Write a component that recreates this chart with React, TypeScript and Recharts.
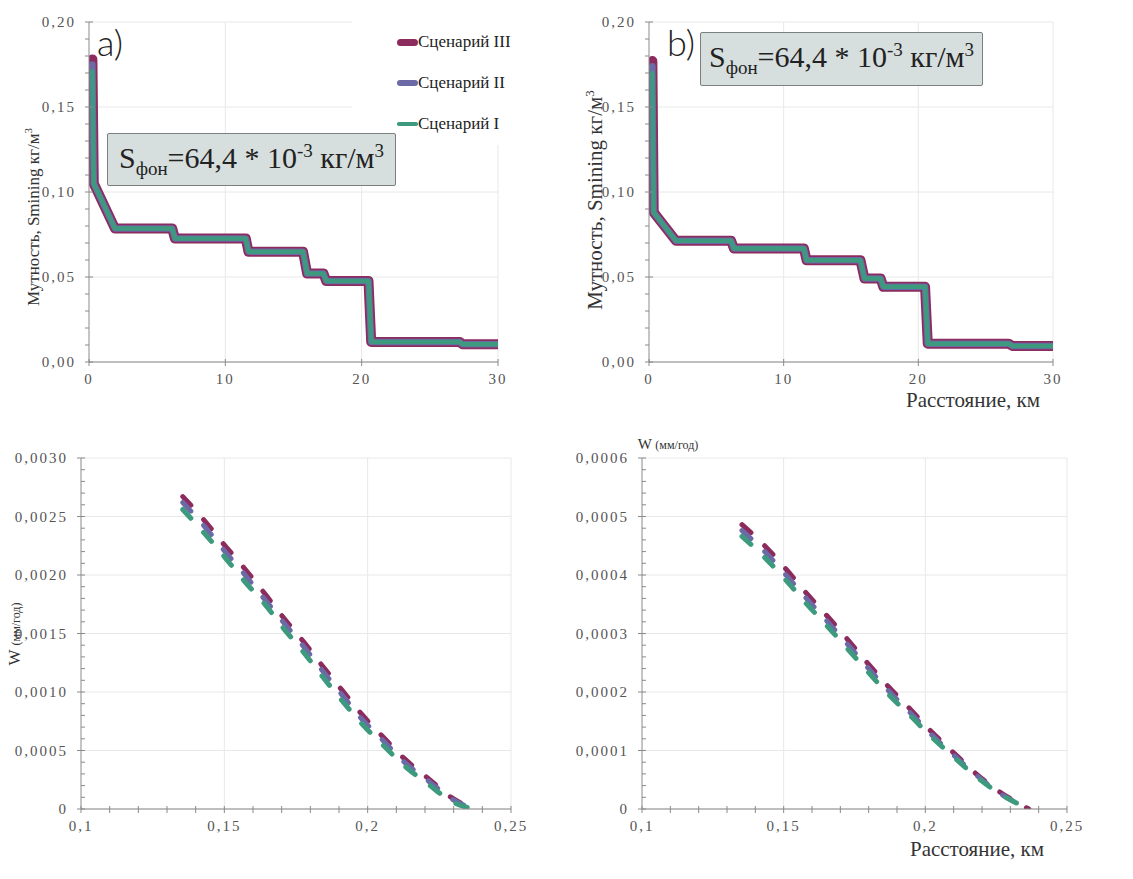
import React from "react";
import { LineChart, Line, XAxis, YAxis, CartesianGrid } from "recharts";

// panel a) turbidity vs distance (km)
const distA = [0.25, 0.35, 1.9, 6.1, 6.3, 11.5, 11.7, 15.7, 16.0, 17.2, 17.4, 20.5, 20.7, 27.2, 27.4, 30];
const scen3A = [0.178, 0.105, 0.0786, 0.0786, 0.0727, 0.0727, 0.0649, 0.0649, 0.052, 0.052, 0.0477, 0.0477, 0.0118, 0.0118, 0.0104, 0.0104];
const scen2A = [0.175, 0.105, 0.0786, 0.0786, 0.0727, 0.0727, 0.0649, 0.0649, 0.052, 0.052, 0.0477, 0.0477, 0.0118, 0.0118, 0.0104, 0.0104];
const scen1A = [0.171, 0.105, 0.0786, 0.0786, 0.0727, 0.0727, 0.0649, 0.0649, 0.052, 0.052, 0.0477, 0.0477, 0.0118, 0.0118, 0.0104, 0.0104];

// panel b)
const distB = [0.25, 0.35, 2.0, 6.1, 6.3, 11.5, 11.7, 15.7, 16.0, 17.2, 17.4, 20.5, 20.7, 26.7, 27.0, 30];
const scen3B = [0.177, 0.088, 0.0713, 0.0713, 0.0668, 0.0668, 0.0599, 0.0599, 0.0491, 0.0491, 0.0442, 0.0442, 0.0108, 0.0108, 0.0094, 0.0094];
const scen2B = [0.174, 0.088, 0.0713, 0.0713, 0.0668, 0.0668, 0.0599, 0.0599, 0.0491, 0.0491, 0.0442, 0.0442, 0.0108, 0.0108, 0.0094, 0.0094];
const scen1B = [0.170, 0.088, 0.0713, 0.0713, 0.0668, 0.0668, 0.0599, 0.0599, 0.0491, 0.0491, 0.0442, 0.0442, 0.0108, 0.0108, 0.0094, 0.0094];

// panel c) W (mm/year) vs distance
const distC = [0.1355, 0.1429, 0.1499, 0.1569, 0.1638, 0.1708, 0.1776, 0.1843, 0.1909, 0.1979, 0.2052, 0.2128, 0.2212, 0.2297, 0.2369];
const scen3C = [0.00267, 0.00247, 0.00226, 0.00206, 0.00185, 0.00163, 0.00143, 0.00122, 0.00102, 0.00081, 0.00062, 0.00043, 0.00026, 0.00009, 0];
const scen2C = [0.00262, 0.00242, 0.00221, 0.00201, 0.0018, 0.00159, 0.00139, 0.00118, 0.00098, 0.00077, 0.00059, 0.0004, 0.00024, 0.00008, 0];
const scen1C = [0.00256, 0.00236, 0.00216, 0.00195, 0.00176, 0.00154, 0.00134, 0.00113, 0.00093, 0.00073, 0.00055, 0.00037, 0.00021, 0.00006, 0];

// panel d)
const distD = [0.1353, 0.1437, 0.151, 0.158, 0.1655, 0.1725, 0.18, 0.187, 0.195, 0.202, 0.21, 0.2175, 0.226, 0.2365];
const scen3D = [0.000486, 0.000448, 0.000409, 0.000369, 0.000329, 0.00029, 0.000247, 0.000209, 0.000169, 0.000133, 0.000096, 0.000062, 0.00003, 0];
const scen2D = [0.000476, 0.000438, 0.000399, 0.00036, 0.00032, 0.000282, 0.00024, 0.000202, 0.000163, 0.000128, 0.000092, 0.00006, 0.000028, 0];
const scen1D = [0.000466, 0.000428, 0.00039, 0.000351, 0.000312, 0.000274, 0.000233, 0.000196, 0.000158, 0.000124, 0.000089, 0.000057, 0.000027, 0];

// axes ticks
const xTicksTop = [0, 10, 20, 30];
const yTicksTop = [0, 0.05, 0.1, 0.15, 0.2];
const xTicksBottom = [0.1, 0.15, 0.2, 0.25];
const yTicksC = [0, 0.0005, 0.001, 0.0015, 0.002, 0.0025, 0.003];
const yTicksD = [0, 0.0001, 0.0002, 0.0003, 0.0004, 0.0005, 0.0006];

const SCENARIOS = [
  { key: "s3", name: "Сценарий III", color: "#8c2b5d", solid: 10, legend: 7 },
  { key: "s2", name: "Сценарий II", color: "#6b6aa6", solid: 6.5, legend: 6 },
  { key: "s1", name: "Сценарий I", color: "#3e9a7e", solid: 4.5, legend: 3.5 },
];

const AXIS = "#8a8a8a";
const GRID = "#e8e8e8";
const GAP = 13;
const serif = "'Liberation Serif', 'DejaVu Serif', serif";

const tickFont: React.CSSProperties = {
  fontFamily: serif,
  fontSize: 15,
  letterSpacing: 2,
  fill: "#555",
};

const toTable = (xs: number[], a: number[], b: number[], c: number[]) =>
  xs.map((x, i) => ({ x, s3: a[i], s2: b[i], s1: c[i] }));

const minorTicks = (lo: number, hi: number, step: number) => {
  const out: number[] = [];
  const n = Math.round((hi - lo) / step);
  for (let i = 0; i <= n; i++) out.push(+(lo + i * step).toFixed(8));
  return out;
};

const isMajor = (majors: number[], v: number) => majors.some((m) => Math.abs(m - v) < 1e-9);

const commaFmt = (d: number) => (v: number) => (v === 0 && d > 2 ? "0" : v.toFixed(d).replace(".", ","));

const makeYTick = (majors: number[], fmt: (v: number) => string, minorOut: boolean) => (p: any) => {
  const ax = p.x + GAP;
  const y = p.y;
  const v = Number(p.payload.value);
  const major = isMajor(majors, v);
  return (
    <g>
      {major ? (
        <line x1={ax - 4} x2={ax + 4} y1={y} y2={y} stroke={AXIS} />
      ) : (
        <line x1={minorOut ? ax - 4 : ax} x2={minorOut ? ax : ax + 4} y1={y} y2={y} stroke={AXIS} />
      )}
      {major && (
        <text x={ax - GAP} y={y} textAnchor="end" dominantBaseline="central" fontFamily={serif} style={tickFont}>
          {fmt(v)}
        </text>
      )}
    </g>
  );
};

const makeXTick = (majors: number[], fmt: (v: number) => string, offset: number) => (p: any) => {
  const ay = p.y - GAP;
  const x = p.x;
  const v = Number(p.payload.value);
  const major = isMajor(majors, v);
  return (
    <g>
      <line x1={x} x2={x} y1={ay - 3} y2={ay + 4} stroke={AXIS} />
      {major && (
        <text x={x} y={ay + offset} textAnchor="middle" dominantBaseline="central" fontFamily={serif} style={tickFont}>
          {fmt(v)}
        </text>
      )}
    </g>
  );
};

interface PanelProps {
  left: number;
  top: number;
  width: number;
  height: number;
  margin: { top: number; right: number; bottom: number; left: number };
  yWidth: number;
  data: any[];
  xDomain: [number, number];
  xMajors: number[];
  xAll: number[];
  xFmt: (v: number) => string;
  yDomain: [number, number];
  yMajors: number[];
  yAll: number[];
  yFmt: (v: number) => string;
  minorOut: boolean;
  dashed: boolean;
}

const Panel = (p: PanelProps) => (
  <div style={{ position: "absolute", left: p.left, top: p.top }}>
    <LineChart width={p.width} height={p.height} data={p.data} margin={p.margin}>
      <CartesianGrid stroke={GRID} horizontalValues={p.yMajors} verticalValues={p.xMajors.slice(1)} />
      <XAxis
        dataKey="x"
        type="number"
        domain={p.xDomain}
        ticks={p.xAll}
        interval={0}
        height={30}
        tickSize={0}
        tickMargin={GAP}
        tickLine={false}
        stroke={AXIS}
        tick={makeXTick(p.xMajors, p.xFmt, 17)}
        allowDataOverflow
      />
      <YAxis
        type="number"
        domain={p.yDomain}
        ticks={p.yAll}
        interval={0}
        width={p.yWidth}
        tickSize={0}
        tickMargin={GAP}
        tickLine={false}
        stroke={AXIS}
        tick={makeYTick(p.yMajors, p.yFmt, p.minorOut)}
        allowDataOverflow
      />
      {SCENARIOS.map((s) => (
        <Line
          key={s.key}
          dataKey={s.key}
          name={s.name}
          type={p.dashed ? "monotone" : "linear"}
          stroke={s.color}
          strokeWidth={p.dashed ? 5 : s.solid}
          strokeDasharray={p.dashed ? "12 19" : undefined}
          strokeLinecap="round"
          strokeLinejoin="round"
          dot={false}
          activeDot={false}
          isAnimationActive={false}
        />
      ))}
    </LineChart>
  </div>
);

const SBox = ({ left, top, width, height }: { left: number; top: number; width: number; height: number }) => (
  <div
    style={{
      position: "absolute",
      left,
      top,
      width,
      height,
      boxSizing: "border-box",
      background: "#d6dede",
      border: "1.5px solid #7a7f7f",
      borderRadius: 2,
      display: "flex",
      alignItems: "center",
      justifyContent: "center",
      fontFamily: serif,
      fontSize: 30,
      color: "#222",
      whiteSpace: "nowrap",
    }}
  >
    <span>
      S<sub style={{ fontSize: 19 }}>фон</sub>=64,4 * 10<sup style={{ fontSize: 19 }}>-3</sup> кг/м
      <sup style={{ fontSize: 19 }}>3</sup>
    </span>
  </div>
);

const Rotated = ({ cx, cy, size, children }: { cx: number; cy: number; size: number; children: React.ReactNode }) => (
  <div
    style={{
      position: "absolute",
      left: cx,
      top: cy,
      transform: "translate(-50%, -50%) rotate(-90deg)",
      whiteSpace: "nowrap",
      fontFamily: serif,
      fontSize: size,
      color: "#333",
    }}
  >
    {children}
  </div>
);

const Plain = ({ cx, cy, size, children }: { cx: number; cy: number; size: number; children: React.ReactNode }) => (
  <div
    style={{
      position: "absolute",
      left: cx,
      top: cy,
      transform: "translate(-50%, -50%)",
      whiteSpace: "nowrap",
      fontFamily: serif,
      fontSize: size,
      color: "#333",
    }}
  >
    {children}
  </div>
);

export default function App() {
  const topA = toTable(distA, scen3A, scen2A, scen1A);
  const topB = toTable(distB, scen3B, scen2B, scen1B);
  const botC = toTable(distC, scen3C, scen2C, scen1C);
  const botD = toTable(distD, scen3D, scen2D, scen1D);

  const fmtInt = (v: number) => String(v);
  const fmtBx = (v: number) => String(v).replace(".", ",");
  const yTopAll = minorTicks(0, 0.2, 0.01);
  const xBotAll = minorTicks(0.1, 0.25, 0.01);

  return (
    <div style={{ position: "absolute", left: 0, top: 0, width: 1133, height: 879, background: "#fff", overflow: "hidden" }}>
      <Panel
        left={0}
        top={0}
        width={560}
        height={420}
        margin={{ top: 22, right: 62, bottom: 28, left: 0 }}
        yWidth={89}
        data={topA}
        xDomain={[0, 30]}
        xMajors={xTicksTop}
        xAll={xTicksTop}
        xFmt={fmtInt}
        yDomain={[0, 0.2]}
        yMajors={yTicksTop}
        yAll={yTopAll}
        yFmt={commaFmt(2)}
        minorOut
        dashed={false}
      />
      <Panel
        left={560}
        top={0}
        width={573}
        height={420}
        margin={{ top: 22, right: 80, bottom: 28, left: 0 }}
        yWidth={89}
        data={topB}
        xDomain={[0, 30]}
        xMajors={xTicksTop}
        xAll={xTicksTop}
        xFmt={fmtInt}
        yDomain={[0, 0.2]}
        yMajors={yTicksTop}
        yAll={yTopAll}
        yFmt={commaFmt(2)}
        minorOut
        dashed={false}
      />
      <Panel
        left={0}
        top={430}
        width={560}
        height={449}
        margin={{ top: 28, right: 49, bottom: 40, left: 0 }}
        yWidth={81}
        data={botC}
        xDomain={[0.1, 0.25]}
        xMajors={xTicksBottom}
        xAll={xBotAll}
        xFmt={fmtBx}
        yDomain={[0, 0.003]}
        yMajors={yTicksC}
        yAll={minorTicks(0, 0.003, 0.0001)}
        yFmt={commaFmt(4)}
        minorOut={false}
        dashed
      />
      <Panel
        left={560}
        top={430}
        width={573}
        height={449}
        margin={{ top: 28, right: 66, bottom: 40, left: 0 }}
        yWidth={82}
        data={botD}
        xDomain={[0.1, 0.25]}
        xMajors={xTicksBottom}
        xAll={xBotAll}
        xFmt={fmtBx}
        yDomain={[0, 0.0006]}
        yMajors={yTicksD}
        yAll={minorTicks(0, 0.0006, 0.00002)}
        yFmt={commaFmt(4)}
        minorOut={false}
        dashed
      />

      {/* legend of panel a */}
      <div style={{ position: "absolute", left: 352, top: 0, width: 208, height: 145, background: "#fff" }}>
        {SCENARIOS.map((s, i) => (
          <div
            key={s.key}
            style={{
              position: "absolute",
              left: 45,
              top: 42 + i * 41 - 11,
              height: 22,
              display: "flex",
              alignItems: "center",
              fontFamily: serif,
              fontSize: 17,
              color: "#222",
              whiteSpace: "nowrap",
            }}
          >
            <span style={{ display: "inline-block", width: 21, height: s.legend, borderRadius: s.legend / 2, background: s.color }} />
            <span>{s.name}</span>
          </div>
        ))}
      </div>

      <SBox left={107} top={133} width={289} height={53} />
      <SBox left={700} top={32} width={283} height={54} />

      <div style={{ position: "absolute", left: 97, top: 20, fontFamily: "Lato, 'DejaVu Sans', sans-serif", fontWeight: 300, fontSize: 36, color: "#222" }}>a)</div>
      <div style={{ position: "absolute", left: 667, top: 20, fontFamily: "Lato, 'DejaVu Sans', sans-serif", fontWeight: 300, fontSize: 36, color: "#222" }}>b)</div>

      <Rotated cx={33} cy={217} size={17}>
        Мутность, Smining кг/м<sup style={{ fontSize: 11 }}>3</sup>
      </Rotated>
      <Rotated cx={595} cy={200} size={21}>
        Мутность, Smining кг/м<sup style={{ fontSize: 13 }}>3</sup>
      </Rotated>
      <Plain cx={973} cy={400} size={21}>Расстояние, км</Plain>

      <Rotated cx={15} cy={634} size={17}>
        W <span style={{ fontSize: 12 }}>(мм/год)</span>
      </Rotated>
      <Plain cx={668} cy={444} size={15}>
        W <span style={{ fontSize: 12 }}>(мм/год)</span>
      </Plain>
      <Plain cx={977} cy={849} size={21}>Расстояние, км</Plain>
    </div>
  );
}
